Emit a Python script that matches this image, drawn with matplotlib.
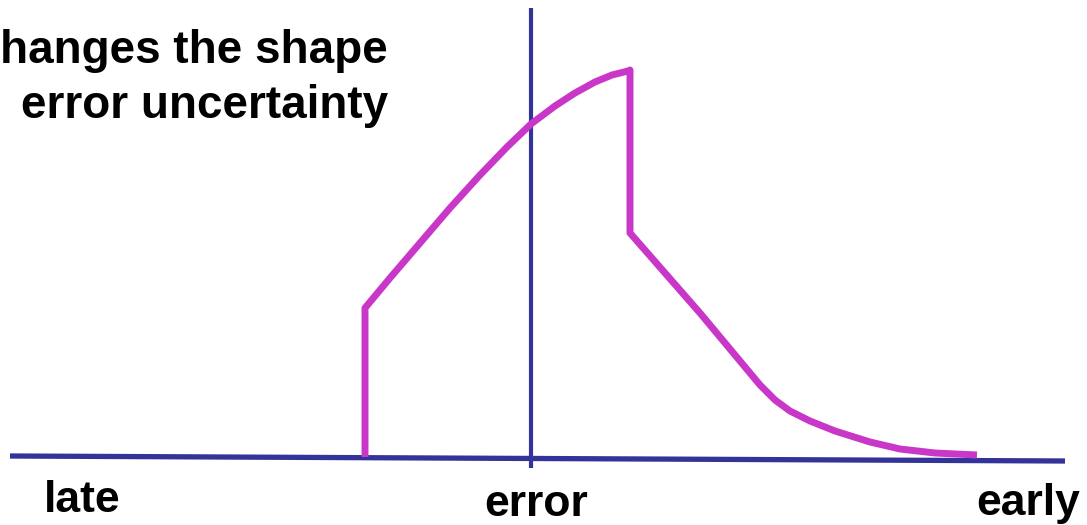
import matplotlib
matplotlib.use("Agg")
import matplotlib.pyplot as plt

# Curve (in image-space units: x rightwards, y downwards)
curve_x = [365, 365, 390, 420, 450, 480, 507, 531, 555, 575, 595, 612, 628, 630,
           630, 665, 700, 735, 760, 775, 790, 810, 835, 870, 900, 935, 977]
curve_y = [457, 308, 278, 243, 208, 175, 147, 124, 106, 93, 82, 75, 71, 70,
           233, 273, 313, 355, 385, 400, 411, 421, 431, 442, 449, 453, 455]

axis_x = [10, 1065]
axis_y = [456, 461]
vline_x = [531, 531]
vline_y = [8, 468]

title_lines = ["hanges the shape", "error uncertainty"]
title_baselines = [63, 118]
bottom_labels = ["late", "error", "early"]
bottom_label_x = [82, 536, 1028]
bottom_label_base = [512, 516, 515]

fig = plt.figure(figsize=(10.87, 5.25), dpi=100)
ax = fig.add_axes([0, 0, 1, 1])
ax.set_xlim(0, 1087)
ax.set_ylim(525, 0)
ax.axis("off")

ax.plot(axis_x, axis_y, color="#333399", lw=3.8, solid_capstyle="butt", zorder=2)
ax.plot(vline_x, vline_y, color="#333399", lw=3.0, solid_capstyle="butt", zorder=2)
ax.plot(curve_x, curve_y, color="#C837C8", lw=5.0, solid_capstyle="butt",
        solid_joinstyle="round", zorder=3)

for line, yb in zip(title_lines, title_baselines):
    ax.text(388, yb, line, ha="right", va="baseline",
            fontsize=33, fontweight="bold", family="Liberation Sans")

for lbl, x, yb in zip(bottom_labels, bottom_label_x, bottom_label_base):
    ax.text(x, yb, lbl, ha="center", va="baseline", fontsize=32,
            fontweight="bold", family="Liberation Sans")

fig.savefig("out.png", dpi=100)
